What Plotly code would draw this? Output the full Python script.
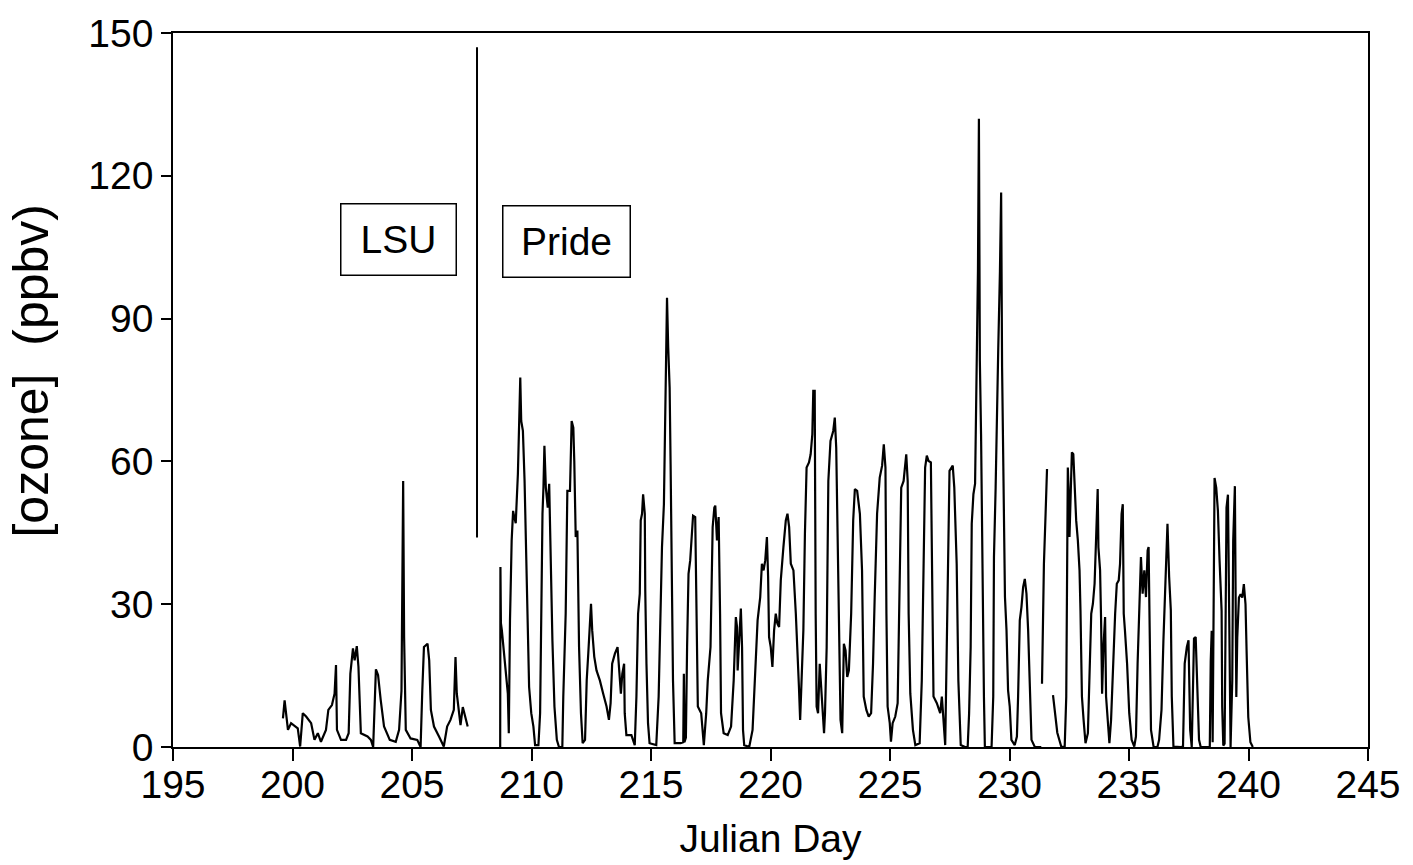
import plotly.graph_objects as go

# ---------------- data ----------------
lsu_day = [199.60, 199.67, 199.81, 199.94, 200.22, 200.32, 200.43, 200.57, 200.78, 200.92,
           201.06, 201.19, 201.40, 201.50, 201.65, 201.76, 201.82, 201.86, 202.03, 202.24,
           202.35, 202.42, 202.53, 202.60, 202.69, 202.76, 202.86, 203.14, 203.28, 203.375,
           203.49, 203.58, 203.69, 203.83, 204.07, 204.32, 204.46, 204.56, 204.63, 204.67,
           204.74, 204.94, 205.22, 205.36, 205.43, 205.50, 205.65, 205.72, 205.79, 205.92,
           206.13, 206.33, 206.47, 206.61, 206.75, 206.82, 206.875, 206.96, 207.03, 207.125,
           207.24, 207.33]
lsu_o3 = [6.0, 9.8, 3.6, 5.0, 3.9, 0.1, 7.1, 6.4, 5.0, 1.5,
          2.9, 1.1, 3.6, 7.8, 8.8, 11.2, 17.2, 3.6, 1.5, 1.5,
          2.9, 15.4, 20.7, 18.2, 21.2, 16.8, 2.9, 2.2, 1.5, 0.0,
          16.3, 15.1, 9.9, 4.3, 1.5, 1.1, 3.6, 11.8, 55.9, 23.1,
          3.6, 1.8, 1.5, 0.0, 11.8, 21.0, 21.7, 18.2, 7.8, 4.3,
          2.2, 0.1, 4.3, 5.7, 7.8, 18.9, 11.2, 7.1, 4.6, 8.4,
          5.7, 4.3]

separator_day = [207.72, 207.72]
separator_o3 = [44.0, 147.0]

pride_day = [
    208.69, 208.70, 208.72, 208.76, 208.83, 208.90, 208.97, 209.01, 209.05, 209.10,
    209.17, 209.23, 209.28, 209.34, 209.43, 209.49, 209.53, 209.57, 209.64, 209.71,
    209.78, 209.85, 209.90, 209.99, 210.08, 210.15, 210.29, 210.36, 210.40, 210.46,
    210.50, 210.54, 210.60, 210.68, 210.74, 210.79, 210.875, 210.96, 211.06, 211.15,
    211.29, 211.33, 211.43, 211.50, 211.61, 211.68, 211.75, 211.79, 211.85, 211.92,
    211.96, 211.99, 212.07, 212.14, 212.24, 212.31, 212.375, 212.44, 212.49, 212.54,
    212.625, 212.72, 212.86, 213.00, 213.14, 213.24, 213.31, 213.375, 213.49, 213.60,
    213.65, 213.74, 213.80, 213.875, 213.90, 213.97, 214.18, 214.32, 214.39, 214.46,
    214.53, 214.57, 214.625, 214.67, 214.74, 214.76, 214.81, 214.875, 214.94, 215.22,
    215.32, 215.40, 215.46, 215.54, 215.61, 215.67, 215.72, 215.78, 215.82, 215.875,
    215.92, 215.99, 216.24, 216.35, 216.375, 216.40, 216.46, 216.51, 216.57, 216.64,
    216.71, 216.76, 216.85, 216.89, 216.96, 217.10, 217.21, 217.31, 217.375, 217.49,
    217.58, 217.65, 217.69, 217.76, 217.83, 217.89, 217.93, 218.04, 218.21, 218.35,
    218.46, 218.55, 218.60, 218.625, 218.69, 218.76, 218.81, 218.85, 218.90, 219.11,
    219.25, 219.32, 219.39, 219.46, 219.57, 219.64, 219.71, 219.78, 219.85, 219.90,
    219.94, 220.01, 220.08, 220.15, 220.22, 220.29, 220.36, 220.43, 220.54, 220.64,
    220.71, 220.78, 220.85, 220.96, 221.06, 221.125, 221.19, 221.24, 221.29, 221.375,
    221.44, 221.51, 221.61, 221.68, 221.75, 221.79, 221.85, 221.86, 221.89, 221.93,
    221.99, 222.06, 222.14, 222.24, 222.28, 222.35, 222.42, 222.51, 222.625, 222.69,
    222.75, 222.79, 222.86, 222.93, 223.00, 223.07, 223.14, 223.21, 223.28, 223.375,
    223.46, 223.53, 223.625, 223.74, 223.83, 223.90, 224.01, 224.11, 224.21, 224.29,
    224.36, 224.46, 224.57, 224.67, 224.74, 224.81, 224.85, 224.90, 224.99, 225.04,
    225.11, 225.22, 225.32, 225.40, 225.47, 225.57, 225.68, 225.74, 225.78, 225.85,
    225.96, 226.06, 226.24, 226.33, 226.40, 226.47, 226.54, 226.61, 226.71, 226.78,
    226.82, 226.96, 227.10, 227.17, 227.24, 227.31, 227.375, 227.44, 227.49, 227.625,
    227.69, 227.72, 227.79, 227.86, 227.96, 228.14, 228.25, 228.31, 228.375, 228.42,
    228.49, 228.56, 228.625, 228.68, 228.72, 228.76, 228.81, 228.86, 228.93, 228.97,
    229.25, 229.32, 229.35, 229.42, 229.49, 229.53, 229.60, 229.65, 229.69, 229.75,
    229.81, 229.875, 229.94, 230.01, 230.08, 230.22, 230.31, 230.36, 230.43, 230.50,
    230.57, 230.64, 230.71, 230.78, 230.85, 230.92, 231.06, 231.33, None, 231.36,
    231.44, 231.51, 231.57, None, 231.82, 232.00, 232.17, 232.31, 232.375, 232.42,
    232.44, 232.47, 232.51, 232.56, 232.61, 232.67, 232.72, 232.79, 232.86, 232.93,
    232.97, 233.03, 233.10, 233.18, 233.28, 233.35, 233.42, 233.49, 233.56, 233.625,
    233.69, 233.72, 233.79, 233.83, 233.875, 233.93, 234.00, 234.04, 234.11, 234.18,
    234.25, 234.33, 234.42, 234.49, 234.57, 234.625, 234.69, 234.74, 234.78, 234.83,
    234.92, 235.01, 235.11, 235.22, 235.29, 235.36, 235.44, 235.50, 235.57, 235.64,
    235.71, 235.78, 235.82, 235.875, 235.92, 236.03, 236.19, 236.26, 236.36, 236.44,
    236.54, 236.61, 236.68, 236.75, 236.79, 236.86, 237.17, 237.26, 237.33, 237.42,
    237.49, 237.56, 237.625, 237.72, 237.79, 237.86, 237.93, 238.00, 238.38, 238.42,
    238.46, 238.50, 238.58, 238.65, 238.72, 238.79, 238.875, 238.90, 238.945, 239.00,
    239.04, 239.08, 239.14, 239.18, 239.21, 239.25, 239.32, 239.36, 239.43, 239.46,
    239.49, 239.53, 239.60, 239.67, 239.74, 239.805, 239.875, 239.92, 239.99, 240.08,
    240.18]
pride_o3 = [
    0.0, 37.8, 26.0, 24.5, 21.0, 17.5, 12.6, 11.2, 2.9, 26.6,
    43.4, 49.6, 48.3, 47.0, 57.3, 71.3, 77.6, 68.5, 66.4, 55.9,
    42.0, 24.5, 12.6, 7.1, 4.3, 0.4, 0.4, 7.1, 28.0, 49.0,
    54.5, 63.3, 54.5, 50.3, 55.3, 42.0, 22.4, 8.5, 1.5, 0.0,
    0.0, 10.6, 28.0, 53.8, 53.8, 68.5, 67.1, 60.1, 44.1, 45.5,
    33.6, 21.0, 7.1, 0.8, 1.5, 14.0, 19.6, 26.6, 30.1, 24.5,
    19.0, 16.1, 14.0, 11.2, 8.5, 5.7, 9.2, 17.5, 19.6, 21.0,
    16.8, 11.2, 15.4, 17.5, 7.1, 2.5, 2.5, 0.4, 10.6, 28.0,
    32.2, 47.6, 49.0, 53.1, 49.0, 32.9, 17.5, 5.0, 0.8, 0.4,
    10.6, 31.5, 42.0, 51.0, 71.3, 94.4, 83.9, 75.5, 59.4, 35.0,
    14.0, 0.8, 0.8, 1.0, 15.4, 1.0, 2.0, 21.0, 36.4, 39.2,
    44.8, 48.6, 48.3, 28.0, 8.5, 7.1, 0.4, 7.1, 14.0, 21.0,
    46.2, 50.3, 50.7, 43.4, 48.3, 28.0, 7.1, 2.9, 2.5, 4.3,
    14.0, 27.3, 25.2, 16.1, 23.8, 29.1, 21.0, 3.6, 0.4, 0.0,
    3.6, 11.2, 16.8, 26.6, 31.5, 38.5, 37.1, 39.2, 44.1, 35.7,
    23.1, 21.0, 16.8, 24.5, 28.0, 25.9, 25.2, 35.0, 42.0, 47.6,
    49.0, 46.2, 38.5, 37.1, 28.0, 18.2, 12.6, 5.7, 14.0, 24.5,
    44.8, 58.7, 59.8, 61.5, 65.7, 74.8, 74.8, 49.0, 28.0, 8.5,
    7.1, 17.5, 10.6, 2.9, 7.1, 21.0, 55.9, 64.3, 66.4, 69.2,
    62.9, 47.6, 24.5, 5.7, 2.9, 21.7, 20.3, 14.7, 16.1, 28.0,
    47.6, 54.2, 53.8, 49.0, 37.1, 10.6, 7.8, 6.4, 7.1, 17.5,
    31.5, 49.0, 56.6, 59.1, 63.6, 58.7, 28.0, 8.5, 5.0, 1.1,
    5.0, 6.4, 9.2, 37.1, 54.5, 55.9, 61.5, 55.9, 28.0, 11.2,
    3.6, 0.4, 0.8, 14.0, 42.0, 58.7, 61.2, 60.1, 59.8, 35.0,
    10.6, 9.2, 7.1, 10.6, 5.7, 0.4, 21.0, 49.0, 58.0, 59.1,
    54.5, 49.6, 38.5, 14.0, 0.4, 0.0, 0.0, 7.1, 21.0, 46.9,
    53.1, 55.3, 77.6, 100.0, 132.0, 81.1, 65.7, 36.4, 10.6, 0.0,
    0.0, 10.6, 39.9, 54.5, 76.2, 83.9, 100.0, 116.5, 79.7, 49.0,
    31.5, 24.5, 11.9, 8.5, 1.5, 0.4, 2.2, 10.6, 26.6, 29.4,
    33.6, 35.3, 32.2, 24.5, 12.6, 1.5, 0.0, 0.0, None, 13.3,
    38.5, 49.0, 58.4, None, 10.9, 3.0, 0.0, 0.1, 10.6, 49.0,
    58.7, 54.5, 44.1, 53.1, 61.9, 61.5, 55.9, 47.6, 43.4, 37.1,
    28.7, 10.6, 5.7, 0.8, 2.9, 14.0, 28.0, 30.1, 34.3, 44.1,
    54.2, 42.0, 37.1, 27.3, 11.2, 21.0, 27.3, 10.6, 4.3, 0.8,
    5.7, 16.8, 28.0, 34.3, 35.0, 38.5, 49.0, 51.0, 28.0, 24.5,
    17.5, 7.1, 1.5, 0.1, 2.2, 17.5, 28.0, 39.9, 32.2, 37.1,
    31.5, 41.3, 42.0, 24.5, 3.6, 0.0, 0.0, 1.5, 7.8, 22.4,
    35.0, 46.9, 35.7, 28.7, 10.6, 0.1, 0.0, 0.1, 17.5, 21.0,
    22.4, 3.6, 0.0, 22.8, 23.1, 13.3, 1.5, 0.0, 0.0, 18.1,
    24.4, 1.0, 56.5, 54.5, 49.6, 39.1, 28.6, 8.4, 0.3, 0.7,
    24.4, 50.3, 53.0, 31.4, 7.7, 0.0, 13.9, 43.3, 54.8, 11.9,
    10.5, 23.0, 31.4, 32.1, 31.4, 34.2, 30.0, 20.2, 6.3, 1.0,
    0.0]

x_ticks = [195, 200, 205, 210, 215, 220, 225, 230, 235, 240, 245]
y_ticks = [0, 30, 60, 90, 120, 150]

labels = ["LSU", "Pride"]
label_day = [204.44, 211.45]
label_o3 = [106.6, 106.2]
label_box_width = [112, 124]

FONT = "Liberation Sans, Arial, Helvetica, sans-serif"

fig = go.Figure()
fig.add_trace(go.Scatter(x=lsu_day, y=lsu_o3, mode="lines",
                         line=dict(color="black", width=2.2), showlegend=False))
fig.add_trace(go.Scatter(x=separator_day, y=separator_o3, mode="lines",
                         line=dict(color="black", width=2.0), showlegend=False))
fig.add_trace(go.Scatter(x=pride_day, y=pride_o3, mode="lines", connectgaps=False,
                         line=dict(color="black", width=2.2), showlegend=False))

for txt, xd, yd, w in zip(labels, label_day, label_o3, label_box_width):
    fig.add_annotation(x=xd, y=yd, xref="x", yref="y", text=txt, showarrow=False,
                       font=dict(family=FONT, size=39, color="black"),
                       bordercolor="black", borderwidth=1.5, width=w, height=68,
                       bgcolor="white", align="center", valign="middle")

# y-axis title placed as a rotated annotation
fig.add_annotation(x=-0.119, y=0.527, xref="paper", yref="paper",
                   text="[ozone]  (ppbv)", textangle=-90, showarrow=False,
                   xanchor="center", yanchor="middle",
                   font=dict(family=FONT, size=50, color="black"))

fig.update_layout(
    width=1413, height=865,
    margin=dict(l=173, r=40, t=32, b=118),
    paper_bgcolor="white", plot_bgcolor="white",
    font=dict(family=FONT, size=39, color="black"),
    showlegend=False,
)
fig.update_xaxes(range=[195, 245], tickvals=x_ticks, ticktext=[str(v) for v in x_ticks],
                 ticks="outside", ticklen=12, tickwidth=1.5, tickcolor="black",
                 ticklabelstandoff=-10,
                 showline=True, linecolor="black", linewidth=1.5, mirror=True,
                 showgrid=False, zeroline=False,
                 tickfont=dict(family=FONT, size=39, color="black"),
                 title=dict(text="Julian Day", font=dict(family=FONT, size=39), standoff=20))
fig.update_yaxes(range=[0, 150], tickvals=y_ticks, ticktext=[str(v) for v in y_ticks],
                 ticks="outside", ticklen=10, tickwidth=1.5, tickcolor="black",
                 showline=True, linecolor="black", linewidth=1.5, mirror=True,
                 showgrid=False, zeroline=False,
                 tickfont=dict(family=FONT, size=39, color="black"))

fig.write_html("out.html")
